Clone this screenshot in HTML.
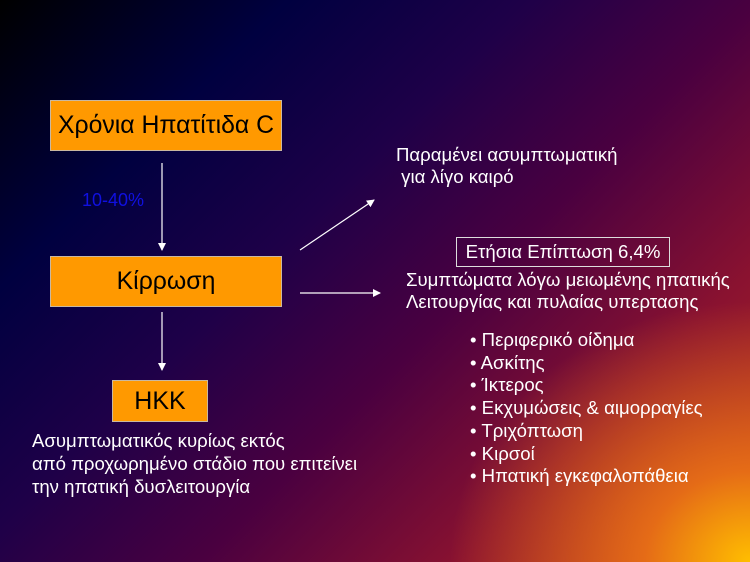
<!DOCTYPE html>
<html><head><meta charset="utf-8"><style>
html,body{margin:0;padding:0}
body{width:750px;height:562px;position:relative;overflow:hidden;font-family:"Liberation Sans",sans-serif;
background:
radial-gradient(ellipse 300px 260px at 750px 562px,rgba(255,190,0,1) 0%,rgba(240,120,20,.85) 35%,rgba(200,50,40,0) 100%),
linear-gradient(135deg,#000000 0%,#000040 22%,#1e0048 40%,#4a0040 58%,#8a1230 78%,#b83020 100%);}
.box{position:absolute;background:#ff9900;border:1px solid #c9b8a0;color:#000;text-align:center;box-sizing:border-box;white-space:nowrap}
.t{position:absolute;color:#fff;font-size:18.6px;line-height:22px;white-space:nowrap}
</style></head><body>
<div class="box" style="left:50px;top:100px;width:232px;height:51px;font-size:24.8px;line-height:49px">Χρόνια Ηπατίτιδα C</div>
<div class="box" style="left:50px;top:256px;width:232px;height:51px;font-size:24.8px;line-height:49px">Κίρρωση</div>
<div class="box" style="left:112px;top:380px;width:96px;height:42px;font-size:25px;line-height:40px">ΗΚΚ</div>
<div class="t" style="left:82px;top:189px;color:#1010e0;font-size:18px">10-40%</div>
<svg width="750" height="562" style="position:absolute;left:0;top:0">
<defs><marker id="a" markerWidth="8" markerHeight="8" refX="7" refY="4" orient="auto" markerUnits="userSpaceOnUse"><path d="M0,0 L8,4 L0,8z" fill="#fff"/></marker></defs>
<g stroke="#fff" stroke-width="1.2" fill="none">
<line x1="162" y1="163" x2="162" y2="250" marker-end="url(#a)"/>
<line x1="162" y1="312" x2="162" y2="370" marker-end="url(#a)"/>
<line x1="300" y1="250" x2="374" y2="200" marker-end="url(#a)"/>
<line x1="300" y1="293" x2="380" y2="293" marker-end="url(#a)"/>
</g></svg>
<div class="t" style="left:396px;top:144px">Παραμένει ασυμπτωματική<br>&nbsp;για λίγο καιρό</div>
<div class="t" style="left:456px;top:237px;width:214px;height:30px;border:1px solid #ddd;box-sizing:border-box;text-align:center;line-height:28px">Ετήσια Επίπτωση 6,4%</div>
<div class="t" style="left:406px;top:269px">Συμπτώματα λόγω μειωμένης ηπατικής<br>Λειτουργίας και πυλαίας υπερτασης</div>
<div class="t" style="left:470px;top:329px;line-height:22.7px">• Περιφερικό οίδημα<br>• Ασκίτης<br>• Ίκτερος<br>• Εκχυμώσεις &amp; αιμορραγίες<br>• Τριχόπτωση<br>• Κιρσοί<br>• Ηπατική εγκεφαλοπάθεια</div>
<div class="t" style="left:32px;top:429px;line-height:23px">Ασυμπτωματικός κυρίως εκτός<br>από προχωρημένο στάδιο που επιτείνει<br>την ηπατική δυσλειτουργία</div>
</body></html>
